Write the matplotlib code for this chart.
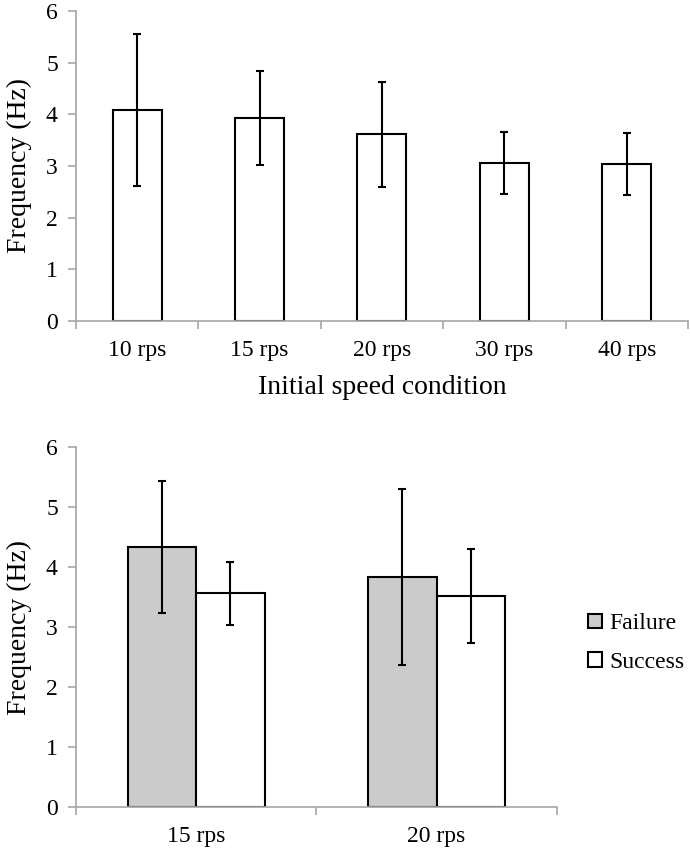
import matplotlib
matplotlib.use("Agg")
import matplotlib.pyplot as plt
import numpy as np

# Top panel: frequency by initial speed condition.
speeds = ["10 rps", "15 rps", "20 rps", "30 rps", "40 rps"]
freq = [4.09, 3.93, 3.61, 3.05, 3.03]
freq_err = [1.47, 0.91, 1.01, 0.60, 0.60]

# Bottom panel: failure vs success.
groups = ["15 rps", "20 rps"]
fail = [4.33, 3.84]
fail_err = [1.10, 1.47]
succ = [3.56, 3.52]
succ_err = [0.53, 0.79]

plt.rcParams['font.family'] = ['Liberation Serif', 'DejaVu Serif']
spine_col = '#a6a6a6'

fig = plt.figure(figsize=(6.9, 8.5), dpi=100)
ax1 = fig.add_axes([0.110, 0.6224, 0.887, 0.3647])
ax2 = fig.add_axes([0.110, 0.0509, 0.697, 0.4229])


def style(ax, n):
    ax.set_xlim(-0.5, n - 0.5)
    ax.set_ylim(0, 6)
    ax.set_yticks(range(7))
    ax.spines['top'].set_visible(False)
    ax.spines['right'].set_visible(False)
    for s in ('left', 'bottom'):
        ax.spines[s].set_color(spine_col)
        ax.spines[s].set_linewidth(1.2)
    ax.set_xticks(np.arange(n))
    ax.set_xticks(np.arange(n + 1) - 0.5, minor=True)
    ax.tick_params(axis='x', which='major', length=0, labelsize=17, pad=14)
    ax.tick_params(axis='x', which='minor', length=6, color=spine_col, width=1.2)
    ax.tick_params(axis='y', length=6, color=spine_col, width=1.2, labelsize=17, pad=7)
    ax.set_ylabel('Frequency (Hz)', fontsize=20, labelpad=10)


x = np.arange(len(speeds))
ax1.bar(x, freq, width=0.40, color='white', edgecolor='black', linewidth=1.5)
ax1.errorbar(x, freq, yerr=freq_err, fmt='none', ecolor='black',
             elinewidth=1.5, capsize=3, capthick=1.5)
style(ax1, len(speeds))
ax1.set_xticklabels(speeds)
ax1.set_xlabel('Initial speed condition', fontsize=20, labelpad=10)

x2 = np.arange(len(groups))
w = 0.285
ax2.bar(x2 - w / 2, fail, width=w, color='#cbcbcb', edgecolor='black',
        linewidth=1.5, label='Failure')
ax2.bar(x2 + w / 2, succ, width=w, color='white', edgecolor='black',
        linewidth=1.5, label='Success')
ax2.errorbar(x2 - w / 2, fail, yerr=fail_err, fmt='none', ecolor='black',
             elinewidth=1.5, capsize=3, capthick=1.5)
ax2.errorbar(x2 + w / 2, succ, yerr=succ_err, fmt='none', ecolor='black',
             elinewidth=1.5, capsize=3, capthick=1.5)
style(ax2, len(groups))
ax2.set_xticklabels(groups)
ax2.legend(loc='center left', bbox_to_anchor=(1.045, 0.455), frameon=False,
           fontsize=17, handlelength=0.6, handleheight=0.6,
           handletextpad=0.3, labelspacing=0.75, borderaxespad=0)

fig.savefig('out.png', dpi=100)
